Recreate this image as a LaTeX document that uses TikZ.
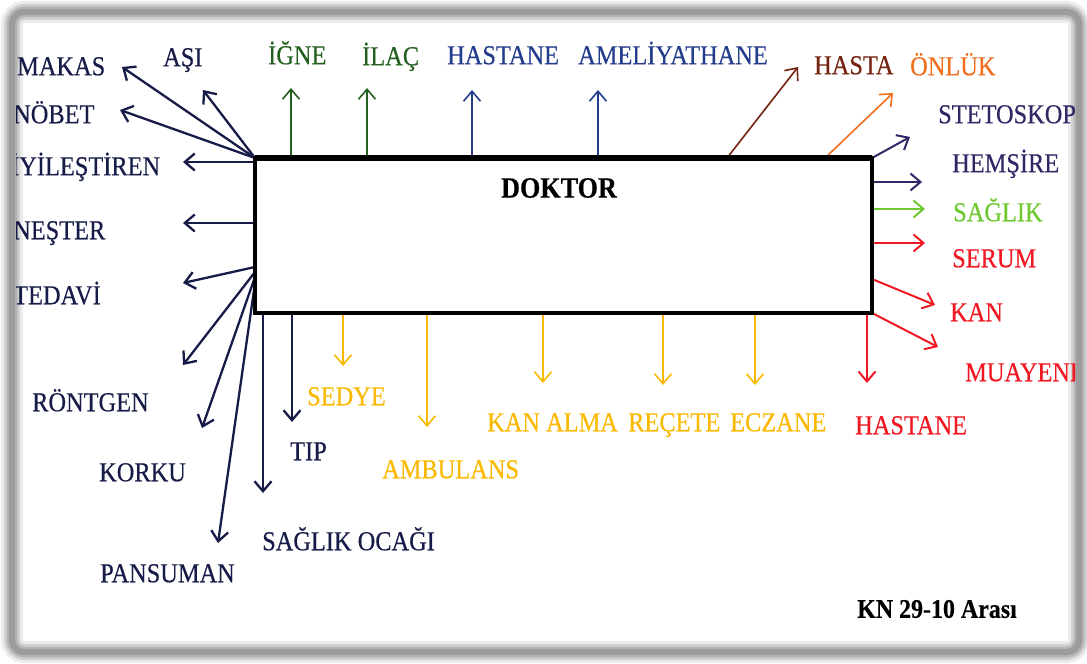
\documentclass[tikz,border=0pt]{standalone}
\usepackage{fontspec}
\setmainfont{Liberation Serif}[FakeStretch=0.89,FakeBold=0.4]
\usetikzlibrary{arrows.meta,positioning}
\definecolor{navyc}{RGB}{22,27,72}
\definecolor{needlegreen}{RGB}{35,95,30}
\definecolor{hospblue}{RGB}{35,60,140}
\definecolor{brownc}{RGB}{115,35,15}
\definecolor{orangec}{RGB}{240,110,30}
\definecolor{purplec}{RGB}{50,38,100}
\definecolor{lightgreen}{RGB}{110,200,50}
\definecolor{redc}{RGB}{240,25,35}
\definecolor{amberc}{RGB}{250,185,0}
\tikzset{
  lbl/.style={font=\fontsize{27.5}{30}\selectfont, inner sep=0pt, text height=18.5bp, text depth=0pt, anchor=west},
  arr/.style={-{Straight Barb[length=10bp,width=17bp]}, line width=1.6bp},
  navyarr/.style={arr, draw=navyc, line width=2.3bp},
  boxshape/.style={rectangle, minimum width=617bp, minimum height=155bp, inner sep=0pt, outer sep=0pt},
  framebar/.style={rounded corners=12bp}
}
\begin{document}
\begin{tikzpicture}[x=1bp, y=-1bp]
  \useasboundingbox (0,0) rectangle (1087,664);
  % shadowed frame
  \draw[gray!15, line width=22bp, framebar] (12,12) rectangle (1079,652);
  \draw[gray!35, line width=16bp, framebar] (12,12) rectangle (1079,652);
  \draw[gray!58, line width=11bp, framebar] (12,12) rectangle (1079,652);
  \draw[gray!78, line width=6bp, framebar] (12,12) rectangle (1079,652);
  \begin{scope}
  \clip (16,16) rectangle (1075,648);
  % the box
  \node[boxshape] (doktor) at (563.5,235.5) {};
  \node[font=\fontsize{29.5}{32}\selectfont\bfseries, inner sep=0pt] (doktor-lbl) at (559,188) {DOKTOR};
  % labels, top and left
  \node[lbl, text=navyc] (makas) at (17,66) {MAKAS};
  \node[lbl, text=navyc] (asi) at (163,57) {AŞI};
  \node[lbl, text=needlegreen] (igne) at (268,55) {İĞNE};
  \node[lbl, text=needlegreen] (ilac) at (362,56) {İLAÇ};
  \node[lbl, text=hospblue] (hastane-top) at (447,55) {HASTANE};
  \node[lbl, text=hospblue] (ameliyathane) at (578,55) {AMELİYATHANE};
  \node[lbl, text=brownc] (hasta) at (814,65) {HASTA};
  \node[lbl, text=orangec] (onluk) at (910,66) {ÖNLÜK};
  \node[lbl, text=navyc] (nobet) at (13,114) {NÖBET};
  \node[lbl, text=navyc] (iyilestiren) at (11,166) {İYİLEŞTİREN};
  \node[lbl, text=navyc] (nester) at (13,230) {NEŞTER};
  \node[lbl, text=navyc] (tedavi) at (13,295) {TEDAVİ};
  % labels, bottom
  \node[lbl, text=navyc] (rontgen) at (32,402) {RÖNTGEN};
  \node[lbl, text=navyc] (korku) at (99,472) {KORKU};
  \node[lbl, text=navyc] (pansuman) at (100,573) {PANSUMAN};
  \node[lbl, text=navyc] (ocak) at (262,541) {SAĞLIK OCAĞI};
  \node[lbl, text=navyc] (tip) at (290,451) {TIP};
  \node[lbl, text=amberc] (sedye) at (307,396) {SEDYE};
  \node[lbl, text=amberc] (ambulans) at (382,469) {AMBULANS};
  \node[lbl, text=amberc] (kanalma) at (487,422) {KAN ALMA};
  \node[lbl, text=amberc] (recete) at (628,422) {REÇETE};
  \node[lbl, text=amberc] (eczane) at (730,422) {ECZANE};
  \node[lbl, text=redc] (hastane-bot) at (855,425) {HASTANE};
  % labels, right
  \node[lbl, text=purplec] (stetoskop) at (938,114) {STETOSKOP};
  \node[lbl, text=purplec] (hemsire) at (952,163) {HEMŞİRE};
  \node[lbl, text=lightgreen] (saglik) at (953,212) {SAĞLIK};
  \node[lbl, text=redc] (serum) at (952,258) {SERUM};
  \node[lbl, text=redc] (kan) at (950,312) {KAN};
  \node[lbl, text=redc] (muayene) at (965,372) {MUAYENE};
  \node[font=\fontsize{27}{30}\selectfont\bfseries, inner sep=0pt, anchor=west] (arasi) at (857,609) {KN 29-10 Arası};
  % arrow tips
  \coordinate (makas-tip) at (122,67);
  \coordinate (asi-tip) at (203,90);
  \coordinate (nobet-tip) at (120,110);
  \coordinate (iyilestiren-tip) at (183,162);
  \coordinate (nester-tip) at (183,223);
  \coordinate (tedavi-tip) at (183,283);
  \coordinate (rontgen-tip) at (183,365);
  \coordinate (korku-tip) at (202,428);
  \coordinate (pansuman-tip) at (218,543);
  \coordinate (ocak-tip) at (263,493);
  \coordinate (tip-tip) at (292,422);
  \coordinate (igne-tip) at (291,88);
  \coordinate (ilac-tip) at (367,88);
  \coordinate (hastane-top-tip) at (472,90);
  \coordinate (ameliyathane-tip) at (598,90);
  \coordinate (hasta-tip) at (798,67);
  \coordinate (onluk-tip) at (893,93);
  \coordinate (stetoskop-tip) at (910,137);
  \coordinate (hemsire-tip) at (922,182);
  \coordinate (saglik-tip) at (925,209);
  \coordinate (serum-tip) at (925,243);
  \coordinate (kan-tip) at (935,305);
  \coordinate (muayene-tip) at (938,347);
  \coordinate (hastane-bot-tip) at (867,383);
  \coordinate (sedye-tip) at (343,366);
  \coordinate (ambulans-tip) at (427,427);
  \coordinate (kanalma-tip) at (543,383);
  \coordinate (recete-tip) at (663,385);
  \coordinate (eczane-tip) at (755,385);
  % arrow feet
  \coordinate (fan-tedavi) at (255,267);
  \coordinate (fan-rontgen) at (255,272);
  \coordinate (fan-korku) at (255,277);
  \coordinate (fan-pansuman) at (255,283);
  \coordinate (foot-hasta) at (727,158);
  \coordinate (foot-onluk) at (825,158);
  \coordinate (foot-kan) at (872,279);
  % left side
  \draw[navyarr] (doktor.north west) -- (makas-tip);
  \draw[navyarr] (doktor.north west) -- (asi-tip);
  \draw[navyarr] (doktor.north west) -- (nobet-tip);
  \draw[navyarr] (doktor.west |- iyilestiren-tip) -- (iyilestiren-tip);
  \draw[navyarr] (doktor.west |- nester-tip) -- (nester-tip);
  \draw[navyarr] (fan-tedavi) -- (tedavi-tip);
  \draw[navyarr] (fan-rontgen) -- (rontgen-tip);
  \draw[navyarr] (fan-korku) -- (korku-tip);
  \draw[navyarr] (fan-pansuman) -- (pansuman-tip);
  \draw[navyarr] (ocak-tip |- doktor.south) -- (ocak-tip);
  \draw[navyarr] (tip-tip |- doktor.south) -- (tip-tip);
  % top side
  \draw[arr, draw=needlegreen] (igne-tip |- doktor.north) -- (igne-tip);
  \draw[arr, draw=needlegreen] (ilac-tip |- doktor.north) -- (ilac-tip);
  \draw[arr, draw=hospblue] (hastane-top-tip |- doktor.north) -- (hastane-top-tip);
  \draw[arr, draw=hospblue] (ameliyathane-tip |- doktor.north) -- (ameliyathane-tip);
  \draw[arr, draw=brownc] (foot-hasta) -- (hasta-tip);
  \draw[arr, draw=orangec] (foot-onluk) -- (onluk-tip);
  % right side
  \draw[arr, draw=purplec, line width=2bp] (doktor.north east) -- (stetoskop-tip);
  \draw[arr, draw=purplec, line width=2bp] (doktor.east |- hemsire-tip) -- (hemsire-tip);
  \draw[arr, draw=lightgreen, line width=2bp] (doktor.east |- saglik-tip) -- (saglik-tip);
  \draw[arr, draw=redc, line width=2bp] (doktor.east |- serum-tip) -- (serum-tip);
  \draw[arr, draw=redc, line width=2bp] (foot-kan) -- (kan-tip);
  \draw[arr, draw=redc, line width=2bp] (doktor.south east) -- (muayene-tip);
  \draw[arr, draw=redc, line width=2bp] (hastane-bot-tip |- doktor.south) -- (hastane-bot-tip);
  % bottom side
  \draw[arr, draw=amberc] (sedye-tip |- doktor.south) -- (sedye-tip);
  \draw[arr, draw=amberc] (ambulans-tip |- doktor.south) -- (ambulans-tip);
  \draw[arr, draw=amberc] (kanalma-tip |- doktor.south) -- (kanalma-tip);
  \draw[arr, draw=amberc] (recete-tip |- doktor.south) -- (recete-tip);
  \draw[arr, draw=amberc] (eczane-tip |- doktor.south) -- (eczane-tip);
  % box outline on top of the arrow feet
  \draw[line width=3.5bp, line join=miter] (doktor.north west) rectangle (doktor.south east);
  \draw[line width=5.5bp] (doktor.north west) -- (doktor.north east);
  \end{scope}
\end{tikzpicture}
\end{document}
